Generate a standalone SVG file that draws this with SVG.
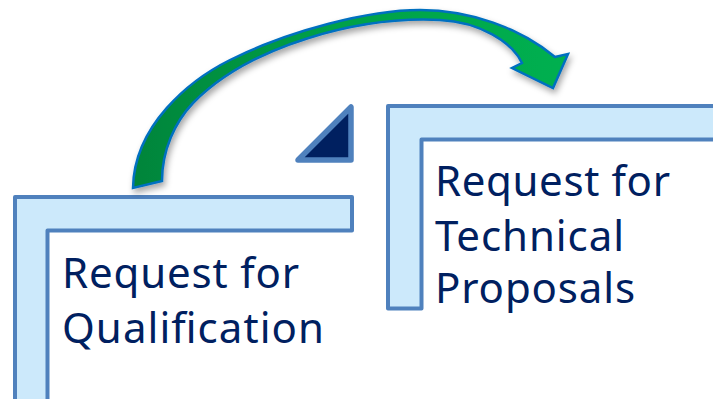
<svg xmlns="http://www.w3.org/2000/svg" width="713" height="399" viewBox="0 0 713 399">
  <defs>
    <style>
      .frame { fill: #cce9fb; stroke: #4f81bd; stroke-width: 4; stroke-linejoin: round; }
      .label { font-family: "Noto Sans", "Open Sans", "Liberation Sans", sans-serif; font-size: 42px; fill: #002060; }
      .flow { fill: url(#flowFill); stroke: #0070c0; stroke-width: 2.5; stroke-linejoin: miter; filter: url(#softShadow); }
      .corner { fill: #002060; stroke: #4f81bd; stroke-width: 5.5; stroke-linejoin: round; }
    </style>
    <linearGradient id="flowFill" x1="130" y1="0" x2="570" y2="0" gradientUnits="userSpaceOnUse">
      <stop offset="0" stop-color="#00843a"/>
      <stop offset="0.45" stop-color="#00a048"/>
      <stop offset="1" stop-color="#00b050"/>
    </linearGradient>
    <filter id="softShadow" x="-10%" y="-20%" width="130%" height="150%">
      <feDropShadow dx="2" dy="4" stdDeviation="3" flood-color="#000000" flood-opacity="0.35"/>
    </filter>
  </defs>

  <!-- first stage: qualification bracket -->
  <g id="node-qualification">
    <polygon class="frame" points="15,197 352,197 352,230.5 47.5,230.5 47.5,402 15,402"/>
    <text class="label" x="62" y="288" textLength="237">Request for</text>
    <text class="label" x="62" y="343" textLength="262">Qualification</text>
  </g>

  <!-- second stage: technical proposals bracket -->
  <g id="node-technical">
    <polygon class="frame" points="388,106 718,106 718,139.5 421.5,139.5 421.5,308.5 388,308.5"/>
    <text class="label" x="435" y="196" textLength="235">Request for</text>
    <text class="label" x="435" y="251" textLength="189">Technical</text>
    <text class="label" x="435" y="303" textLength="200">Proposals</text>
  </g>

  <!-- small corner marker between the brackets -->
  <g id="node-corner">
    <polygon class="corner" points="298,160 351,107 351,160"/>
  </g>

  <!-- curved transition arrow -->
  <g id="connectors">
    <path class="flow" d="M133,188 C134,125 190,80 230,60 C290,30 370,10 420,10 C470,10 520,28 555,57 L568,54 L553,88 L512,68 L522,63 C512,42 480,22 440,20 C360,16 250,45 193,103 C175,122 162,150 162,181 Z"/>
  </g>
</svg>
